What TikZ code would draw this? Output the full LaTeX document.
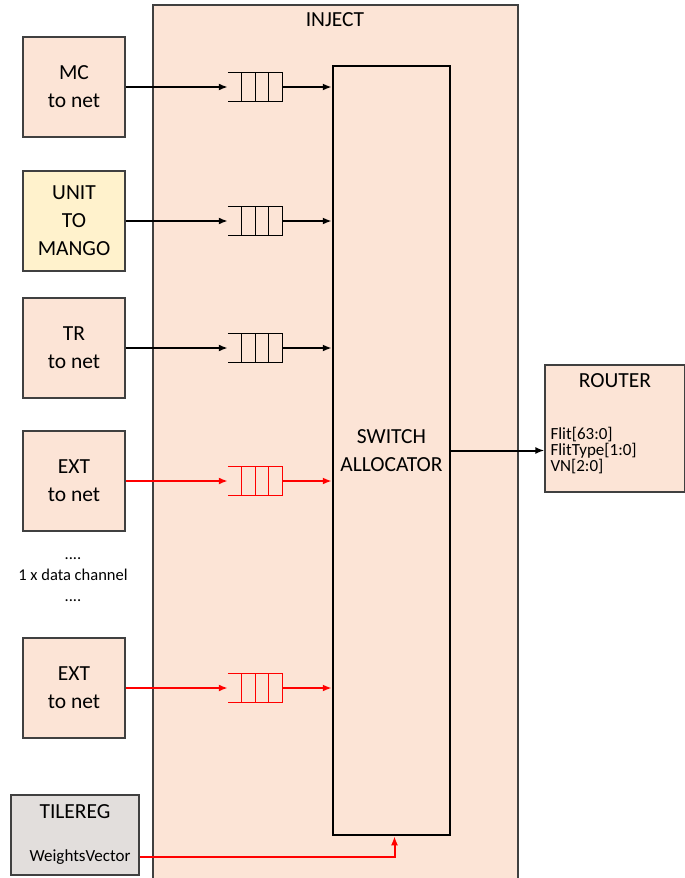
\documentclass[tikz,border=0pt]{standalone}
\usepackage{fontspec}
\setmainfont{Carlito}
\usetikzlibrary{arrows.meta,positioning,calc}
\definecolor{peach}{HTML}{FCE4D6}
\definecolor{cream}{HTML}{FFF2CC}
\definecolor{regGray}{HTML}{E2DEDC}
\definecolor{edgeGray}{HTML}{404040}

\begin{document}
\begin{tikzpicture}[%
        x=1pt, y=-1pt,
        >={Latex[length=9pt,width=7pt]},
        bigtxt/.style={font=\fontsize{21.5}{28}\selectfont},
        smalltxt/.style={font=\fontsize{17}{16}\selectfont},
        block/.style={rectangle, draw=edgeGray, line width=1.2pt, fill=peach, minimum width=102pt, minimum height=100pt, align=center, bigtxt, inner sep=0pt},
        queue/.style={rectangle, minimum width=54pt, minimum height=28pt, inner sep=0pt},
        link/.style={->, line width=2pt}]
        % Frame
        \useasboundingbox (0,0) rectangle (685,878);
        \fill[peach] (153,5) rectangle (518,878);
        \draw[edgeGray, line width=1.2pt] (153,878) -- (153,5) -- (518,5) -- (518,878);
        \node[bigtxt] (inject) at (335,20) {INJECT};

        % Nodes
        \node[block] (mc) at (74,87) {MC\\to net};
        \node[block, fill=cream] (unit) at (74,221) {UNIT\\TO\\MANGO};
        \node[block] (tr) at (74,348) {TR\\to net};
        \node[block] (ext1) at (74,481) {EXT\\to net};
        \node[smalltxt, align=center, font=\fontsize{16.5}{21}\selectfont] (dots) at (73,580) {....\\1 x data channel\\....};
        \node[block] (ext2) at (74,688) {EXT\\to net};
        \node[block, fill=regGray, minimum width=128pt, minimum height=80pt] (tilereg) at (75,835) {};
        \node[bigtxt] (ttitle) at (75,812) {TILEREG};
        \node[smalltxt, anchor=east] (weights) at (134,857) {WeightsVector};

        \node[draw, line width=2.5pt, minimum width=117pt, minimum height=769pt, align=center, bigtxt] (switch) at (391.5,450.5) {SWITCH\\ALLOCATOR};

        \node[block, minimum width=140pt, minimum height=127pt] (router) at (615,428.5) {};
        \node[bigtxt] (rtitle) at (615,381) {ROUTER};
        \node[smalltxt, align=left, anchor=west] (rsig) at (547,451) {Flit[63:0]\\FlitType[1:0]\\VN[2:0]};

        % Queues and edges
        \foreach \src/\q/\col in {mc/q1/black, unit/q2/black, tr/q3/black, ext1/q4/red, ext2/q5/red} {
            \node[queue] (\q) at (255,0 |- \src) {};
            \draw[\col, line width=1pt] (\q.north west) -- (\q.north east) -- (\q.south east) -- (\q.south west);
            \foreach \f in {0.25,0.5,0.75}
                \draw[\col, line width=1pt] ($(\q.north west)!\f!(\q.north east)$) -- ($(\q.south west)!\f!(\q.south east)$);
            \draw[link, \col] (\src) -- (\q);
            \draw[link, \col] (\q) -- (switch.west |- \q);
        }
        \draw[link] (switch.east) -- (switch.east -| router.west);
        \draw[link, red] (weights.east -| tilereg.east) -| ([xshift=3pt]switch.south);
    \end{tikzpicture}
\end{document}
